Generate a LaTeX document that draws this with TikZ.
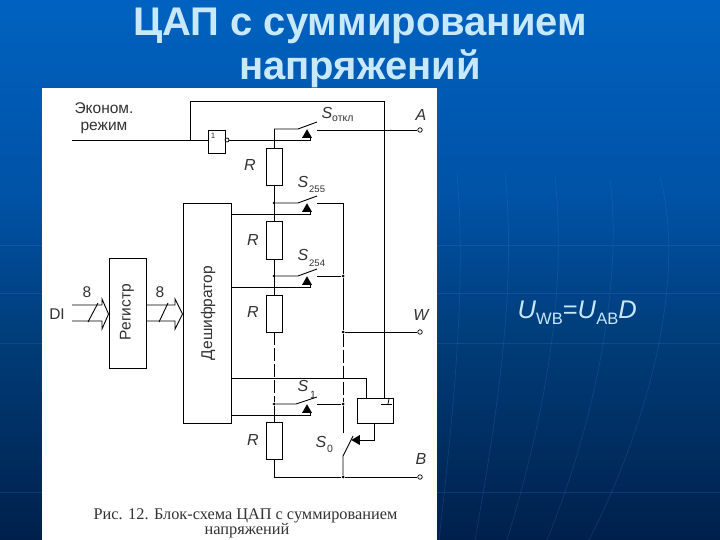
\documentclass[tikz,border=0pt]{standalone}
\usepackage{fontspec}
\setmainfont{Liberation Sans}
\newfontfamily\capfont{Liberation Serif}
\usetikzlibrary{positioning}
\usetikzlibrary{shapes.geometric}
\definecolor{titleblue}{RGB}{200,232,252}
\definecolor{bgtop}{RGB}{0,98,192}
\definecolor{bgmid}{RGB}{0,82,165}
\definecolor{bglow}{RGB}{0,60,120}
\definecolor{bgbot}{RGB}{0,32,75}
\definecolor{streak}{RGB}{60,130,215}
\definecolor{inkgrey}{RGB}{50,50,50}

\begin{document}
\begin{tikzpicture}[x=1pt,y=-1pt,
	wire/.style={draw=black,line width=0.9pt},
	dashwire/.style={wire,dash pattern=on 13pt off 3pt},
	box/.style={rectangle,draw=black,line width=0.9pt,fill=white,inner sep=0pt},
	resnode/.style={box,minimum width=16pt,minimum height=37pt},
	jdot/.style={circle,fill=black,inner sep=0pt,minimum size=3pt},
	pin/.style={circle,draw=black,fill=white,line width=0.7pt,inner sep=0pt,minimum size=4.5pt},
	ctrltri/.style={regular polygon,regular polygon sides=3,fill=black,inner sep=0pt,minimum size=11.5pt},
	bgstreak/.style={draw=streak,opacity=0.22,line width=0.7pt},
	lbl/.style={text=inkgrey,font=\fontsize{15.5}{17}\selectfont,inner sep=0pt},
	ilbl/.style={lbl,font=\fontsize{16}{17}\selectfont\itshape},
	sublbl/.style={lbl,font=\fontsize{10.5}{12}\selectfont},
	titletxt/.style={text=titleblue,font=\fontsize{40}{44}\selectfont\bfseries,inner sep=0pt}]
	% background and sheet
	\useasboundingbox (0,0) rectangle (720,540);
	\shade[top color=bgtop,bottom color=bgmid] (0,0) rectangle (720,200);
	\shade[top color=bgmid,bottom color=bglow] (0,200) rectangle (720,343);
	\shade[top color=bglow,bottom color=bgbot] (0,343) rectangle (720,540);
	\draw[bgstreak] (439,540) .. controls (455,400) and (466,280) .. (457,173);
	\draw[bgstreak] (475,540) .. controls (500,400) and (516,280) .. (505,173);
	\draw[bgstreak] (507,540) .. controls (550,400) and (566,280) .. (555,177);
	\draw[bgstreak] (547,540) .. controls (600,410) and (622,270) .. (610,180);
	\draw[bgstreak] (589,540) .. controls (655,410) and (685,270) .. (660,177);
	\draw[bgstreak] (0,245) -- (720,245);
	\draw[bgstreak] (0,293) -- (720,293);
	\draw[bgstreak] (0,343) -- (720,343);
	\draw[bgstreak] (0,492) -- (720,492);
	\fill[white] (42,88) rectangle (437,540);
	% title
	\node[titletxt] (title1) at (360,26) {ЦАП с суммированием};
	\node[titletxt] (title2) at (360,69) {напряжений};
	\node[text=titleblue,font=\fontsize{25.5}{28}\selectfont,anchor=base west,inner sep=0pt] (formula) at (517.5,318) {\textit{U}\raisebox{-6pt}{\fontsize{16.5}{18}\selectfont WB}=\textit{U}\raisebox{-6pt}{\fontsize{16.5}{18}\selectfont AB}\textit{D}};
	% blocks
	\node[box,minimum width=37pt,minimum height=110pt] (reg) at (127.5,313) {};
	\node[box,minimum width=48pt,minimum height=220pt] (dec) at (207,313) {};
	\node[lbl,rotate=90] (regtxt) at (127,312) {Регистр};
	\node[lbl,rotate=90] (dectxt) at (208,313) {Дешифратор};
	\node[box,minimum width=17pt,minimum height=23pt] (inv) at (216.5,141.5) {};
	\node[lbl,font=\fontsize{8}{9}\selectfont] (invtxt) at (213,136) {1};
	\node[circle,draw=black,line width=0.7pt,inner sep=0pt,minimum size=4pt] (bub) at (227,140) {};
	\node[box,minimum width=36pt,minimum height=25pt] (drv) at (375,410.5) {};
	% resistors
	\node[resnode] (r1) at (274,166.5) {};
	\node[resnode,minimum height=38pt] (r2) at (274,240) {};
	\node[resnode] (r3) at (274,313.5) {};
	\node[resnode] (r4) at (274,441) {};
	% junctions
	\coordinate (joff) at (274,129);
	\node[jdot] (j255) at (274,203) {};
	\node[jdot] (j254) at (274,276) {};
	\node[jdot] (j1) at (274,404) {};
	\coordinate (jbot) at (274,477);
	\node[jdot] (m254) at (343,276) {};
	\node[jdot] (mw) at (343,332) {};
	\node[jdot] (m1) at (343,404) {};
	\node[jdot] (mbot) at (343,477) {};
	\coordinate (m255) at (343,203);
	\coordinate (j1up) at (190,140);
	% terminals
	\node[pin] (pina) at (420,130) {};
	\node[pin] (pinw) at (420,332) {};
	\node[pin] (pinb) at (420,477) {};
	% control triangles
	\node[ctrltri] (toff) at (307,135) {};
	\node[ctrltri] (t255) at (307,209) {};
	\node[ctrltri] (t254) at (307,282) {};
	\node[ctrltri] (t1) at (307,410) {};
	\node[ctrltri,rotate=90] (t0) at (357,440) {};
	% main chain
	\draw[wire] (joff) -- (r1.north);
	\draw[wire] (r1.south) -- (r2.north);
	\draw[wire] (r2.south) -- (r3.north);
	\draw[dashwire] (r3.south) -- (j1);
	\draw[wire] (j1) -- (r4.north);
	\draw[wire] (r4.south) -- (jbot) -- (mbot) -- (pinb);
	% switches
	\draw[wire] (joff) -- (298,129) -- (317,122);
	\draw[wire] (317,130) -- (pina);
	\draw[wire] (j255) -- (298,203) -- (317,196);
	\draw[wire] (317,203) -- (m255) -- (m254);
	\draw[wire] (j254) -- (298,276) -- (317,269);
	\draw[wire] (317,276) -- (m254);
	\draw[wire] (j1) -- (296,404) -- (317,397);
	\draw[wire] (317,404) -- (m1);
	% middle bus
	\draw[wire] (m254) -- (mw) -- (pinw);
	\draw[dashwire] (mw) -- (m1);
	\draw[wire] (m1) -- (343,433);
	\draw[wire] (353,436) -- (343,456) -- (mbot);
	% control lines
	\draw[wire] (72,140) -- (inv.west |- 0,140);
	\draw[wire] (j1up) -- (190,101) -- (384,101) -- (384,398);
	\draw[wire] (bub.east) -- (310,140) -- (310,137);
	\draw[wire] (dec.east |- 0,214) -- (310,214) -- (310,211);
	\draw[wire] (dec.east |- 0,287) -- (310,287) -- (310,284);
	\draw[wire] (dec.east |- 0,378) -- (366,378) -- (366,398);
	\draw[wire] (dec.east |- 0,415) -- (310,415) -- (310,412);
	\draw[wire] (drv.south -| 374,0) -- (374,440) -- (t0);
	\draw[wire,line width=0.7pt] (381,404) -- (392,404);
	\draw[wire,line width=0.7pt] (388,404) -- (389,399);
	% bus arrows
	\draw[wire] (72,305) -- (102,305) -- (102,299) -- (reg.west |- 0,314) -- (102,329) -- (102,321) -- (72,321);
	\draw[wire] (88,322) -- (98,303);
	\draw[wire] (reg.east |- 0,305) -- (175,305) -- (175,299) -- (dec.west |- 0,314) -- (175,329) -- (175,321) -- (reg.east |- 0,321);
	\draw[wire] (159,322) -- (168,303);
	% labels
	\node[lbl] (econ1) at (104,108) {Эконом.};
	\node[lbl] (econ2) at (104,128) {режим};
	\node[lbl] (lbldi) at (57,314) {DI};
	\node[lbl] (lbl8a) at (87,292) {8};
	\node[lbl] (lbl8b) at (160,292) {8};
	\node[ilbl] (lblr1) at (250,165) {R};
	\node[ilbl] (lblr2) at (253,240) {R};
	\node[ilbl] (lblr3) at (253,312) {R};
	\node[ilbl] (lblr4) at (253,440) {R};
	\node[ilbl] (lbla) at (421,115) {A};
	\node[ilbl] (lblw) at (421,315) {W};
	\node[ilbl] (lblb) at (421,459) {B};
	\node[ilbl] (soff) at (327,113) {S};
	\node[sublbl,anchor=west] (soffs) at (332,119) {откл};
	\node[ilbl] (s255) at (303,182) {S};
	\node[sublbl,font=\fontsize{9.5}{12}\selectfont,anchor=west] (s255s) at (309,189) {255};
	\node[ilbl] (s254) at (303,255) {S};
	\node[sublbl,font=\fontsize{9.5}{12}\selectfont,anchor=west] (s254s) at (309,263) {254};
	\node[ilbl] (s1) at (303,386) {S};
	\node[sublbl,anchor=west] (s1s) at (310,395) {1};
	\node[ilbl] (s0) at (321,442) {S};
	\node[sublbl,anchor=west] (s0s) at (327,449) {0};
	% caption
	\node[font=\capfont\fontsize{16.3}{18}\selectfont,text=inkgrey,inner sep=0pt] (cap1) at (245.5,516) {Рис. 12. Блок-схема ЦАП с суммированием};
	\node[font=\capfont\fontsize{16.3}{18}\selectfont,text=inkgrey,inner sep=0pt] (cap2) at (247,531) {напряжений};
\end{tikzpicture}
\end{document}
